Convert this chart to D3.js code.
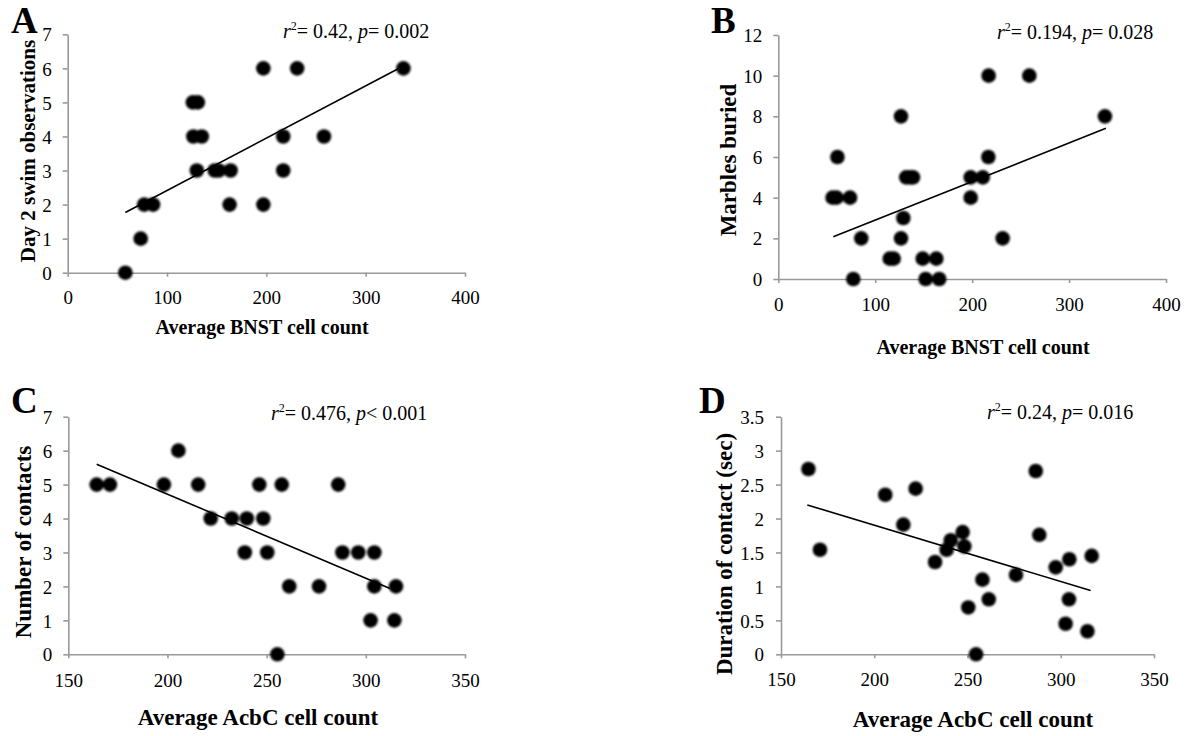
<!DOCTYPE html>
<html>
<head>
<meta charset="utf-8">
<script src="https://cdn.jsdelivr.net/npm/d3@7"></script>
<style>
  html, body { margin: 0; padding: 0; background: #fff; }
  svg { display: block; }
  text { font-family: "Liberation Serif", "Times New Roman", serif; fill: #000; }
</style>
</head>
<body>
<svg id="chart" width="1197" height="736"></svg>
<script>
// ---------------- DATA ----------------
const panelLetters = ["A", "B", "C", "D"];
const xTitles = ["Average BNST cell count", "Average BNST cell count", "Average AcbC cell count", "Average AcbC cell count"];
const yTitles = ["Day 2 swim observations", "Marbles buried", "Number of contacts", "Duration of contact (sec)"];
const r2Values = ["0.42", "0.194", "0.476", "0.24"];
const pOps = ["=", "=", "<", "="];
const pValues = ["0.002", "0.028", "0.001", "0.016"];

// Panel A: BNST vs Day 2 swim observations
const aX = [58, 73.5, 77, 86, 126.5, 126, 131, 135, 130, 148, 152, 164, 163, 197, 197, 231, 217, 217, 258, 338];
const aY = [0, 1, 2, 2, 4, 5, 5, 4, 3, 3, 3, 3, 2, 6, 2, 6, 4, 3, 4, 6];
const aTrend = [58, 1.77, 338, 6.07];
const aXTicks = [0, 100, 200, 300, 400];
const aYTicks = [0, 1, 2, 3, 4, 5, 6, 7];

// Panel B: BNST vs Marbles buried
const bX = [56, 60, 61, 74, 77.4, 85.6, 115, 119, 126.6, 126.6, 129, 132, 136, 139, 149, 152, 163, 166, 198.5, 198.5, 211, 217, 216.7, 231.5, 259, 337];
const bY = [4, 4, 6, 4, 0, 2, 1, 1, 8, 2, 3, 5, 5, 5, 1, 0, 1, 0, 5, 4, 5, 10, 6, 2, 10, 8];
const bTrend = [56.7, 2.08, 338, 7.41];
const bXTicks = [0, 100, 200, 300, 400];
const bYTicks = [0, 2, 4, 6, 8, 10, 12];

// Panel C: AcbC vs Number of contacts
const cX = [164.3, 171, 205.5, 198.2, 215.5, 221.8, 232.4, 240, 239, 246.3, 248.3, 250.3, 255.4, 257.6, 261.4, 276.4, 286.1, 288.2, 296.2, 302.4, 304.3, 304.3, 314.4, 315.2];
const cY = [5, 5, 6, 5, 5, 4, 4, 4, 3, 5, 4, 3, 0, 5, 2, 2, 5, 3, 3, 1, 3, 2, 1, 2];
const cTrend = [164.3, 5.6, 312.2, 1.94];
const cXTicks = [150, 200, 250, 300, 350];
const cYTicks = [0, 1, 2, 3, 4, 5, 6, 7];

// Panel D: AcbC vs Duration of contact (sec)
const dX = [164.7, 170.9, 205.9, 222.2, 215.6, 232.6, 238.8, 241.0, 247.4, 248.3, 250.4, 254.6, 258.0, 261.4, 276.0, 286.6, 288.5, 297.3, 302.6, 304.6, 304.4, 314.3, 316.6];
const dY = [2.73, 1.54, 2.35, 2.44, 1.91, 1.36, 1.54, 1.68, 1.80, 1.59, 0.69, 0, 1.10, 0.81, 1.17, 2.70, 1.76, 1.28, 0.45, 1.40, 0.81, 0.34, 1.45];
const dTrend = [164.1, 2.20, 316.0, 0.94];
const dXTicks = [150, 200, 250, 300, 350];
const dYTicks = [0, 0.5, 1, 1.5, 2, 2.5, 3, 3.5];

// ---------------- LAYOUT ----------------
const panels = [
  { xs: aX, ys: aY, trend: aTrend, xt: aXTicks, yt: aYTicks,
    left: 67.7, right: 465, top: 34.3, bottom: 272.7,
    tickFont: 19, xLabOff: 31, yLabGap: 16,
    letterX: 11, letterY: 33,
    annX: 283, annY: 38,
    xTitleX: 262, xTitleY: 334, xTitleFont: 20,
    yTitleX: 28, yTitleY: 151, yTitleFont: 21 },
  { xs: bX, ys: bY, trend: bTrend, xt: bXTicks, yt: bYTicks,
    left: 778.3, right: 1166, top: 35, bottom: 279,
    tickFont: 19, xLabOff: 32, yLabGap: 16,
    letterX: 711, letterY: 33,
    annX: 997, annY: 39,
    xTitleX: 983, xTitleY: 354, xTitleFont: 20,
    yTitleX: 728, yTitleY: 160, yTitleFont: 23 },
  { xs: cX, ys: cY, trend: cTrend, xt: cXTicks, yt: cYTicks,
    left: 68.3, right: 465, top: 416.7, bottom: 654.3,
    tickFont: 19, xLabOff: 33, yLabGap: 16,
    letterX: 11, letterY: 413,
    annX: 271, annY: 420,
    xTitleX: 258, xTitleY: 725, xTitleFont: 23,
    yTitleX: 23, yTitleY: 542, yTitleFont: 23 },
  { xs: dX, ys: dY, trend: dTrend, xt: dXTicks, yt: dYTicks,
    left: 781, right: 1154, top: 416.7, bottom: 654.3,
    tickFont: 19, xLabOff: 32, yLabGap: 17,
    letterX: 699, letterY: 413,
    annX: 987, annY: 419,
    xTitleX: 973, xTitleY: 727, xTitleFont: 23,
    yTitleX: 724, yTitleY: 554, yTitleFont: 23 }
];

const svg = d3.select("#chart");
const defs = svg.append("defs");
defs.append("filter").attr("id", "soft")
  .attr("x", "-50%").attr("y", "-50%").attr("width", "200%").attr("height", "200%")
  .append("feGaussianBlur").attr("stdDeviation", 0.8);

const axisColor = "#999";

panels.forEach((p, i) => {
  const g = svg.append("g");
  const x = d3.scaleLinear().domain(d3.extent(p.xt)).range([p.left, p.right]);
  const y = d3.scaleLinear().domain(d3.extent(p.yt)).range([p.bottom, p.top]);

  // X axis
  const xa = g.append("g").attr("transform", `translate(0,${p.bottom})`)
    .call(d3.axisBottom(x).tickValues(p.xt).tickSize(4).tickSizeOuter(0).tickFormat(d3.format("")));
  xa.attr("font-family", null).attr("font-size", null);
  xa.select(".domain").attr("stroke", axisColor).attr("stroke-width", 1.6);
  xa.selectAll(".tick line").attr("stroke", axisColor).attr("stroke-width", 1.6);
  xa.selectAll(".tick text").attr("y", p.xLabOff).attr("dy", 0)
    .style("font-family", '"Liberation Serif", serif').style("font-size", p.tickFont + "px").attr("fill", "#000");

  // Y axis
  const ya = g.append("g").attr("transform", `translate(${p.left},0)`)
    .call(d3.axisLeft(y).tickValues(p.yt).tickSize(5).tickSizeOuter(0).tickFormat(d3.format("")));
  ya.attr("font-family", null).attr("font-size", null);
  ya.select(".domain").attr("stroke", axisColor).attr("stroke-width", 1.6);
  ya.selectAll(".tick line").attr("stroke", axisColor).attr("stroke-width", 1.6);
  ya.selectAll(".tick text").attr("x", -p.yLabGap).attr("dy", "0.35em")
    .style("font-family", '"Liberation Serif", serif').style("font-size", p.tickFont + "px").attr("fill", "#000");

  // Points
  const pts = p.xs.map((v, k) => [v, p.ys[k]]);
  g.append("g").attr("filter", "url(#soft)")
    .selectAll("circle").data(pts).join("circle")
    .attr("cx", d => x(d[0])).attr("cy", d => y(d[1])).attr("r", 7.3).attr("fill", "#000");

  // Trend line
  g.append("line")
    .attr("x1", x(p.trend[0])).attr("y1", y(p.trend[1]))
    .attr("x2", x(p.trend[2])).attr("y2", y(p.trend[3]))
    .attr("stroke", "#000").attr("stroke-width", 1.6);

  // Panel letter
  g.append("text").attr("x", p.letterX).attr("y", p.letterY)
    .style("font-size", "37px").style("font-weight", "bold").text(panelLetters[i]);

  // Annotation
  const ann = g.append("text").attr("x", p.annX).attr("y", p.annY).style("font-size", "20px");
  ann.append("tspan").style("font-style", "italic").text("r");
  ann.append("tspan").attr("dy", -8).style("font-size", "12px").text("2");
  ann.append("tspan").attr("dy", 8).text("= " + r2Values[i] + ", ");
  ann.append("tspan").style("font-style", "italic").text("p");
  ann.append("tspan").text(pOps[i] + " " + pValues[i]);

  // Axis titles
  g.append("text").attr("x", p.xTitleX).attr("y", p.xTitleY)
    .attr("text-anchor", "middle").style("font-weight", "bold")
    .style("font-size", p.xTitleFont + "px").text(xTitles[i]);
  g.append("text").attr("transform", `translate(${p.yTitleX},${p.yTitleY}) rotate(-90)`)
    .attr("text-anchor", "middle").attr("dominant-baseline", "central")
    .style("font-weight", "bold").style("font-size", p.yTitleFont + "px").text(yTitles[i]);
});
</script>
</body>
</html>
